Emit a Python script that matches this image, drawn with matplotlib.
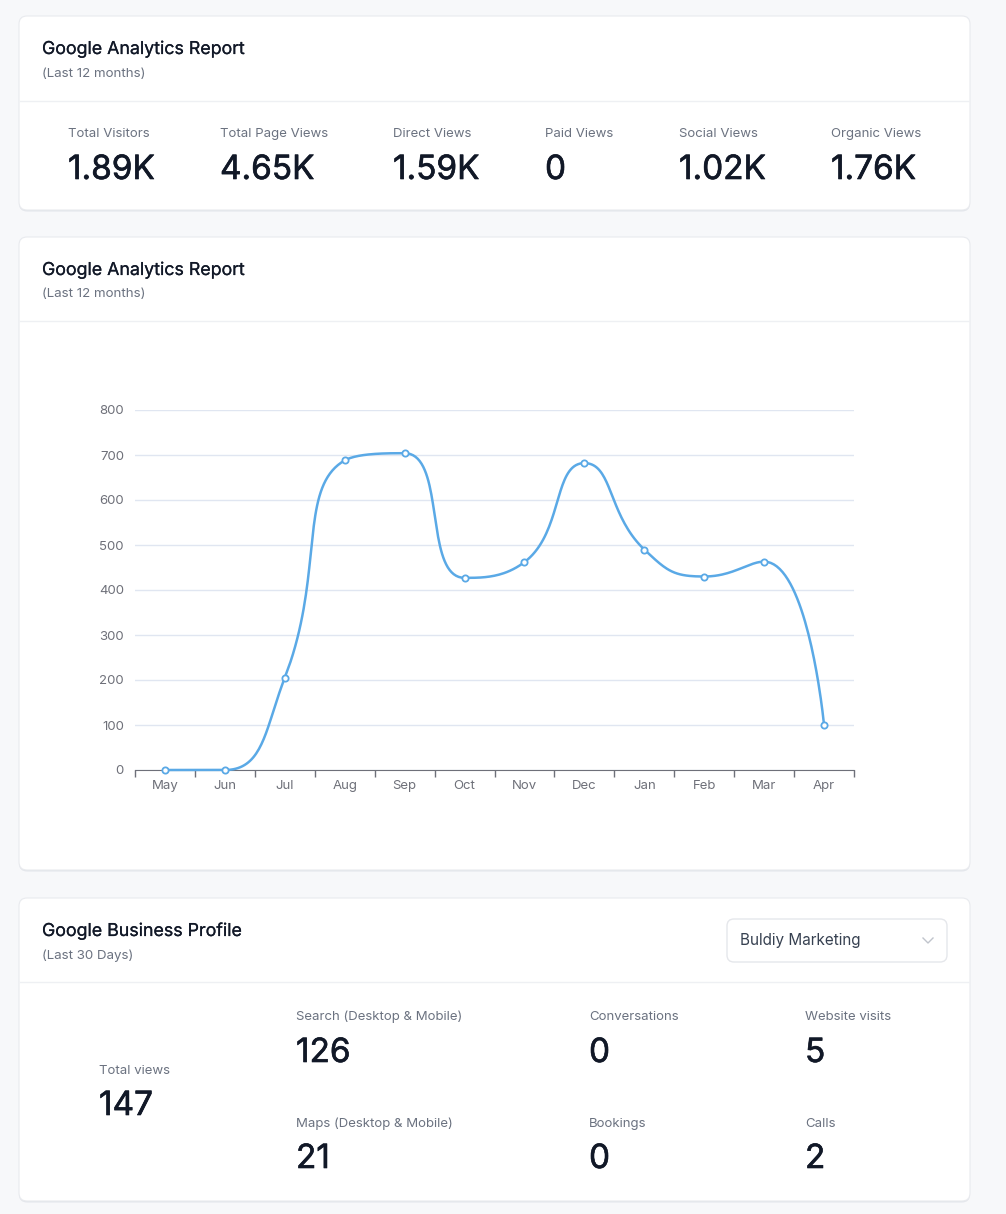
import numpy as np
import matplotlib
matplotlib.use('Agg')
import matplotlib.pyplot as plt
import matplotlib.patheffects as pe
from matplotlib.patches import FancyBboxPatch

plt.rcParams['font.family'] = ['Inter', 'DejaVu Sans']

# data
months = ['May', 'Jun', 'Jul', 'Aug', 'Sep', 'Oct', 'Nov', 'Dec', 'Jan', 'Feb', 'Mar', 'Apr']
visits = [0, 0, 205, 688, 704, 427, 462, 682, 490, 430, 463, 100]

ga_labels = ['Total Visitors', 'Total Page Views', 'Direct Views', 'Paid Views', 'Social Views', 'Organic Views']
ga_values = ['1.89K', '4.65K', '1.59K', '0', '1.02K', '1.76K']

gbp_total_label = 'Total views'
gbp_total_value = '147'
gbp_labels = [['Search (Desktop & Mobile)', 'Conversations', 'Website visits'],
              ['Maps (Desktop & Mobile)', 'Bookings', 'Calls']]
gbp_values = [['126', '0', '5'], ['21', '0', '2']]

W, H = 1006, 1214
DARK = '#111827'
GREY = '#6b7280'
LINE = '#5aa9e6'
BOLD = [pe.withStroke(linewidth=0.45, foreground=DARK)]
SEMI = [pe.withStroke(linewidth=0.15, foreground=DARK)]


def clamp(v, a, b):
    return min(max(v, min(a, b)), max(a, b))


def smooth_path(xs, ys, sx, sy, smooth=0.5, steps=40):
    # echarts style smoothing with clamped control points, in pixel space
    px = np.array(xs, float) * sx
    py = np.array(ys, float) * sy
    n = len(px)
    cp_prev = [(px[i], py[i]) for i in range(n)]
    cp_next = [(px[i], py[i]) for i in range(n)]
    for i in range(1, n - 1):
        x, y = px[i], py[i]
        vx, vy = px[i + 1] - px[i - 1], py[i + 1] - py[i - 1]
        l0 = np.hypot(x - px[i - 1], y - py[i - 1])
        l1 = np.hypot(px[i + 1] - x, py[i + 1] - y)
        r = l1 / (l0 + l1)
        nx, ny = x + vx * smooth * r, y + vy * smooth * r
        nx = clamp(nx, x, px[i + 1])
        ny = clamp(ny, y, py[i + 1])
        vx, vy = nx - x, ny - y
        bx, by = x - vx * l0 / l1, y - vy * l0 / l1
        bx = clamp(bx, x, px[i - 1])
        by = clamp(by, y, py[i - 1])
        vx, vy = x - bx, y - by
        nx, ny = x + vx * l1 / l0, y + vy * l1 / l0
        cp_prev[i] = (bx, by)
        cp_next[i] = (nx, ny)
    out_x, out_y = [], []
    t = np.linspace(0, 1, steps)
    for i in range(n - 1):
        p0 = np.array([px[i], py[i]])
        p1 = np.array(cp_next[i])
        p2 = np.array(cp_prev[i + 1])
        p3 = np.array([px[i + 1], py[i + 1]])
        b = ((1 - t) ** 3)[:, None] * p0 + (3 * (1 - t) ** 2 * t)[:, None] * p1 \
            + (3 * (1 - t) * t ** 2)[:, None] * p2 + (t ** 3)[:, None] * p3
        out_x.extend(b[:, 0])
        out_y.extend(b[:, 1])
    return np.array(out_x) / sx, np.array(out_y) / sy


def card(ax, x0, y0, x1, y1):
    shadow = FancyBboxPatch((x0, y0 + 1.5), x1 - x0, y1 - y0,
                            boxstyle='round,pad=0,rounding_size=8',
                            fc='#e3e6eb', ec='none', zorder=1)
    ax.add_patch(shadow)
    box = FancyBboxPatch((x0, y0), x1 - x0, y1 - y0,
                         boxstyle='round,pad=0,rounding_size=8',
                         fc='white', ec='#e8eaee', lw=0.8, zorder=2)
    ax.add_patch(box)


def header(ax, y_title, y_sub, title, sub, y_div, x0=19, x1=970):
    ax.text(42, y_title, title, fontsize=12.8, color=DARK, va='baseline', ha='left',
            path_effects=SEMI, zorder=3)
    ax.text(42, y_sub, sub, fontsize=9.6, color=GREY, va='baseline', ha='left', zorder=3)
    ax.plot([x0 + 1, x1 - 1], [y_div, y_div], color='#eef0f3', lw=1, zorder=3)


def stat(ax, x, y_lab, y_val, lab, val):
    ax.text(x, y_lab, lab, fontsize=9.5, color=GREY, va='baseline', zorder=3)
    ax.text(x, y_val, val, fontsize=24, color=DARK, va='baseline',
            path_effects=BOLD, zorder=3)


fig = plt.figure(figsize=(W / 100, H / 100), dpi=100)
fig.patch.set_facecolor('#f7f8fa')
bg = fig.add_axes([0, 0, 1, 1])
bg.set_xlim(0, W)
bg.set_ylim(H, 0)
bg.axis('off')

# card 1
card(bg, 19, 16, 970, 210)
header(bg, 54, 77, 'Google Analytics Report', '(Last 12 months)', 101)
stat_x = [68, 220, 393, 545, 679, 831]
for x, lab, val in zip(stat_x, ga_labels, ga_values):
    stat(bg, x, 137, 179, lab, val)

# card 2
card(bg, 19, 237, 970, 870)
header(bg, 275, 297, 'Google Analytics Report', '(Last 12 months)', 321)

# card 3
card(bg, 19, 898, 970, 1201)
header(bg, 936, 959, 'Google Business Profile', '(Last 30 Days)', 982)
dd = FancyBboxPatch((727, 919), 220, 43, boxstyle='round,pad=0,rounding_size=7',
                    fc='white', ec='#e5e7eb', lw=1, zorder=3)
bg.add_patch(dd)
bg.text(740, 945, 'Buldiy Marketing', fontsize=11, color='#374151', va='baseline', zorder=4)
bg.plot([923, 928, 933], [938, 943, 938], color='#c0c4cc', lw=1, zorder=4)

stat(bg, 99, 1074, 1115, gbp_total_label, gbp_total_value)
col_x = [296, 589, 805]
row_y = [(1020, 1062), (1127, 1168)]
for r, (ly, vy) in enumerate(row_y):
    for c, x in enumerate(col_x):
        stat(bg, x, ly, vy, gbp_labels[r][c], gbp_values[r][c])

# line chart
ax = fig.add_axes([135 / W, 1 - 770 / H, 719 / W, 360 / H])
ax.set_facecolor('none')
xs = np.arange(len(months))
cx, cy = smooth_path(xs, visits, 60, 0.45)
ax.plot(cx, cy, color=LINE, lw=1.8, zorder=3, clip_on=False)
ax.plot(xs, visits, 'o', ms=4.5, mfc='white', mec=LINE, mew=1.3, zorder=4, clip_on=False)
ax.set_xlim(-0.5, len(months) - 0.5)
ax.set_ylim(0, 800)
ax.set_yticks(range(0, 801, 100))
ax.yaxis.grid(True, color='#e0e6f1', lw=1)
ax.set_axisbelow(True)
ax.set_xticks(np.arange(-0.5, len(months), 1))
ax.set_xticklabels([])
ax.set_xticks(xs, minor=True)
ax.set_xticklabels(months, minor=True)
ax.tick_params(axis='x', which='major', length=5, color='#6e7079', width=1)
ax.tick_params(axis='x', which='minor', length=0, pad=7, labelsize=9.5, labelcolor='#6e7079')
ax.tick_params(axis='y', length=0, pad=8, labelsize=9.5, labelcolor='#6e7079')
for s in ['top', 'right', 'left']:
    ax.spines[s].set_visible(False)
ax.spines['bottom'].set_color('#6e7079')

fig.savefig('out.png', dpi=100, facecolor=fig.get_facecolor())
